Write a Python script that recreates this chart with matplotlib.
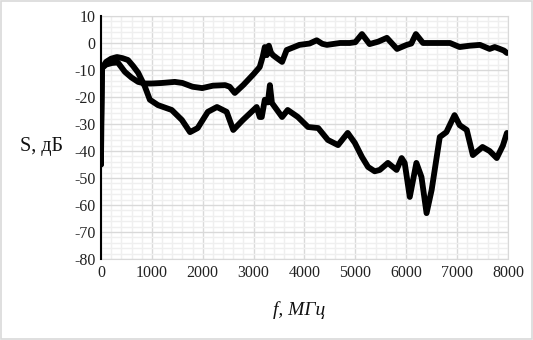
import matplotlib
matplotlib.use('Agg')
import matplotlib.pyplot as plt
from matplotlib.ticker import MultipleLocator
from matplotlib.patches import Rectangle

plt.rcParams['font.family'] = ['Liberation Serif', 'DejaVu Serif']
plt.rcParams['axes.unicode_minus'] = False

# upper curve (ends near -3 dB)
f_a = [0, 5, 20, 100, 216, 330, 470, 600, 730, 860, 1000, 1200, 1450, 1600, 1800, 1990,
       2200, 2440, 2530, 2630, 2800, 3000, 3120, 3180, 3220, 3260, 3300, 3340, 3380,
       3450, 3560, 3650, 3900, 4100, 4240, 4350, 4440, 4700, 4890, 5000, 5130, 5280,
       5450, 5620, 5820, 6010, 6100, 6190, 6330, 6600, 6860, 7050, 7250, 7450, 7640,
       7740, 7840, 7920, 7980]
s_a = [-45, -30, -9.3, -8, -7.4, -7.2, -10.7, -12.8, -14.4, -15, -15, -14.8, -14.4, -14.8,
       -16.2, -16.7, -15.8, -15.6, -16.2, -18.5, -15.5, -11.5, -8.9, -5, -1.5, -4.5, -1,
       -3.5, -4.5, -5.5, -7, -2.6, -0.7, -0.2, 1, -0.3, -0.7, 0, 0, 0.3, 3.3, -0.4,
       0.5, 1.9, -2.2, -0.7, -0.2, 3.3, 0, 0, 0, -1.5, -1, -0.7, -2.2, -1.5, -2.2, -2.8, -3.7]

# lower curve (ends near -33 dB)
f_b = [0, 5, 20, 100, 200, 314, 420, 530, 630, 730, 860, 960, 1120, 1390, 1590, 1750,
       1900, 2100, 2280, 2470, 2600, 2790, 3060, 3120, 3160, 3220, 3280, 3320, 3360,
       3560, 3670, 3870, 4070, 4270, 4460, 4660, 4850, 4990, 5130, 5250, 5380, 5480,
       5640, 5810, 5910, 5970, 6070, 6200, 6300, 6400, 6500, 6660, 6790, 6950, 7050,
       7190, 7310, 7500, 7640, 7780, 7900, 7980]
s_b = [-45, -30, -9.3, -7, -5.8, -5.2, -5.6, -6.3, -8.5, -11, -16, -21, -23, -24.8, -28.5,
       -33, -31.5, -25.5, -23.7, -25.5, -32.2, -28.5, -23.7, -27.4, -27.4, -21, -22,
       -15.6, -22.2, -27.4, -24.8, -27.4, -31.1, -31.5, -35.9, -37.8, -33.3, -37, -42.2,
       -45.9, -47.5, -47, -44.4, -47, -42.6, -44.4, -57, -44.4, -49.6, -63, -54.4, -34.8,
       -33, -26.7, -30.4, -32.2, -41.5, -38.5, -40, -42.6, -38, -33.3]

fig = plt.figure(figsize=(5.33, 3.4), dpi=100)
ax = fig.add_axes([0.1895, 0.238, 0.7635, 0.715])

ax.plot(f_a, s_a, color='black', lw=4.2, solid_joinstyle='round', solid_capstyle='round', zorder=3)
ax.plot(f_b, s_b, color='black', lw=4.2, solid_joinstyle='round', solid_capstyle='round', zorder=3)

ax.set_xlim(0, 8000)
ax.set_ylim(-80, 10)
ax.xaxis.set_major_locator(MultipleLocator(1000))
ax.xaxis.set_minor_locator(MultipleLocator(200))
ax.yaxis.set_major_locator(MultipleLocator(10))
ax.yaxis.set_minor_locator(MultipleLocator(2))
ax.grid(which='major', color='#d9d9d9', lw=1.0, zorder=1)
ax.grid(which='minor', color='#efefef', lw=1.0, zorder=0)
ax.set_axisbelow(True)

for side in ['top', 'right', 'bottom']:
    ax.spines[side].set_color('#d9d9d9')
ax.spines['left'].set_color('black')
ax.spines['left'].set_linewidth(1.5)
ax.spines['left'].set_zorder(4)
ax.tick_params(which='both', length=0, labelsize=11.5, colors='#222222', pad=4)

fig.text(0.037, 0.568, 'S, дБ', fontsize=14.5, va='center', ha='left', color='#111111')
fig.text(0.562, 0.088, 'f, МГц', fontsize=14, style='italic', ha='center', va='center', color='#111111')

fig.patches.append(Rectangle((0.001, 0.003), 0.997, 0.994, transform=fig.transFigure,
                             fill=False, edgecolor='#d9d9d9', lw=1.2))

fig.savefig('out.png', dpi=100)
